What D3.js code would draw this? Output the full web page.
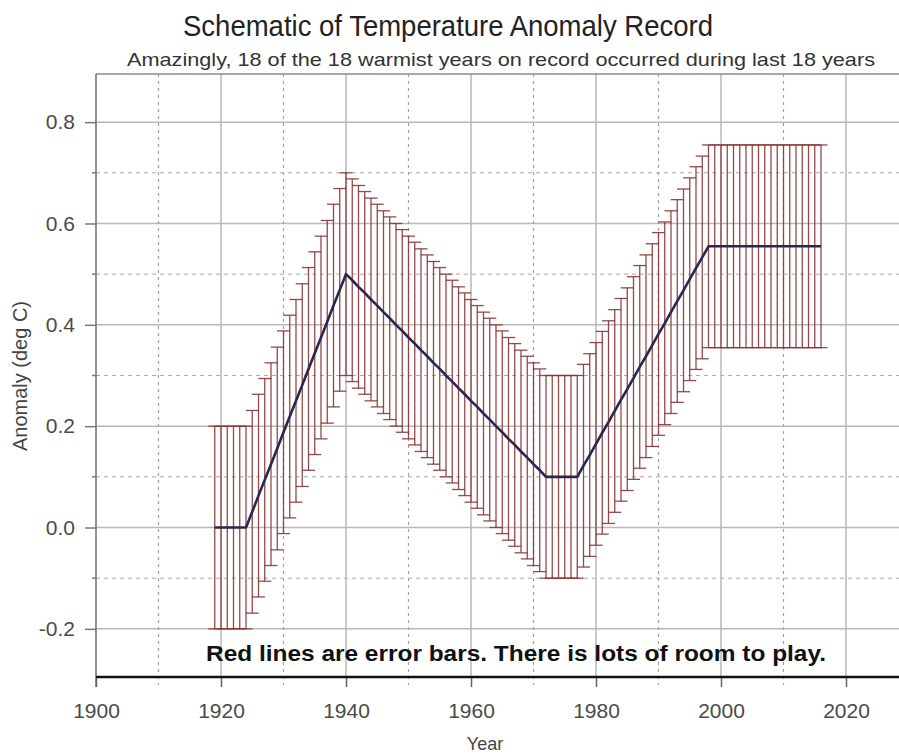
<!DOCTYPE html>
<html>
<head>
<meta charset="utf-8">
<script src="https://cdn.jsdelivr.net/npm/d3@7"></script>
<style>
  html, body { margin: 0; padding: 0; background: #fff; }
  svg { display: block; }
  text { font-family: "Liberation Sans", Arial, sans-serif; }
</style>
</head>
<body>
<svg id="chart" width="899" height="755"></svg>
<script>
// ---------------- data ----------------
const years = [
  1919,1920,1921,1922,1923,1924,1925,1926,1927,1928,1929,1930,1931,1932,1933,1934,1935,1936,1937,1938,
  1939,1940,1941,1942,1943,1944,1945,1946,1947,1948,1949,1950,1951,1952,1953,1954,1955,1956,1957,1958,
  1959,1960,1961,1962,1963,1964,1965,1966,1967,1968,1969,1970,1971,1972,1973,1974,1975,1976,1977,1978,
  1979,1980,1981,1982,1983,1984,1985,1986,1987,1988,1989,1990,1991,1992,1993,1994,1995,1996,1997,1998,
  1999,2000,2001,2002,2003,2004,2005,2006,2007,2008,2009,2010,2011,2012,2013,2014,2015,2016
];
const anomaly = [
  0.000,0.000,0.000,0.000,0.000,0.000,0.031,0.063,0.094,0.125,0.156,0.188,0.219,0.250,0.281,0.313,0.344,0.375,0.406,0.438,
  0.469,0.500,0.488,0.475,0.463,0.450,0.438,0.425,0.413,0.400,0.388,0.375,0.363,0.350,0.338,0.325,0.313,0.300,0.288,0.275,
  0.263,0.250,0.238,0.225,0.213,0.200,0.188,0.175,0.163,0.150,0.138,0.125,0.113,0.100,0.100,0.100,0.100,0.100,0.100,0.122,
  0.143,0.165,0.187,0.208,0.230,0.252,0.273,0.295,0.317,0.338,0.360,0.382,0.403,0.425,0.447,0.468,0.490,0.512,0.533,0.555,
  0.555,0.555,0.555,0.555,0.555,0.555,0.555,0.555,0.555,0.555,0.555,0.555,0.555,0.555,0.555,0.555,0.555,0.555
];
const errorHalf = 0.2;

const xMajorTicks = [1900, 1920, 1940, 1960, 1980, 2000, 2020];
const xMinorTicks = [1910, 1930, 1950, 1970, 1990, 2010];
const yMajorTicks = [-0.2, 0.0, 0.2, 0.4, 0.6, 0.8];
const yTickLabels = ["-0.2", "0.0", "0.2", "0.4", "0.6", "0.8"];
const yMinorTicks = [-0.1, 0.1, 0.3, 0.5, 0.7];

const titleText = "Schematic of Temperature Anomaly Record";
const subtitleText = "Amazingly, 18 of the 18 warmist years on record occurred during last 18 years";
const noteText = "Red lines are error bars. There is lots of room to play.";
const xLabel = "Year";
const yLabel = "Anomaly (deg C)";

// ---------------- layout ----------------
const pLeft = 96, pRight = 899, pTop = 74, pBottom = 677;
const x = d3.scaleLinear().domain([1900, 2028.48]).range([pLeft, pRight]);
const y = d3.scaleLinear().domain([-0.295, 0.895]).range([pBottom, pTop]);

const svg = d3.select("#chart");
svg.append("rect").attr("width", 899).attr("height", 755).attr("fill", "#fff");

const grid = svg.append("g");
grid.selectAll(".hmaj").data(yMajorTicks).join("line")
  .attr("x1", pLeft).attr("x2", pRight)
  .attr("y1", d => y(d)).attr("y2", d => y(d))
  .attr("stroke", "#b9b9b9").attr("stroke-width", 1.5);
grid.selectAll(".hmin").data(yMinorTicks).join("line")
  .attr("x1", pLeft).attr("x2", pRight)
  .attr("y1", d => y(d)).attr("y2", d => y(d))
  .attr("stroke", "#a8a8a8").attr("stroke-width", 1).attr("stroke-dasharray", "4,4");
grid.selectAll(".vmaj").data(xMajorTicks.slice(1)).join("line")
  .attr("x1", d => x(d)).attr("x2", d => x(d))
  .attr("y1", pTop).attr("y2", pBottom)
  .attr("stroke", "#b9b9b9").attr("stroke-width", 1.5);
grid.selectAll(".vmin").data(xMinorTicks).join("line")
  .attr("x1", d => x(d)).attr("x2", d => x(d))
  .attr("y1", pTop).attr("y2", pBottom + 8)
  .attr("stroke", "#a0a0a0").attr("stroke-width", 1.2).attr("stroke-dasharray", "3,4");
grid.append("line").attr("x1", pLeft).attr("x2", pRight).attr("y1", pTop).attr("y2", pTop)
  .attr("stroke", "#8a8a8a").attr("stroke-width", 1.5);

// ---------------- error bars ----------------
const data = years.map((yr, i) => ({ yr, v: anomaly[i] }));
const eb = svg.append("g").attr("stroke", "#8a3535").attr("stroke-width", 1.3).attr("stroke-opacity", 0.9);
eb.selectAll(".bar").data(data).join("line")
  .attr("x1", d => x(d.yr)).attr("x2", d => x(d.yr))
  .attr("y1", d => y(d.v + errorHalf)).attr("y2", d => y(d.v - errorHalf));
eb.selectAll(".capT").data(data).join("line")
  .attr("x1", d => x(d.yr) - 6.5).attr("x2", d => x(d.yr) + 6.5)
  .attr("y1", d => y(d.v + errorHalf)).attr("y2", d => y(d.v + errorHalf));
eb.selectAll(".capB").data(data).join("line")
  .attr("x1", d => x(d.yr) - 6.5).attr("x2", d => x(d.yr) + 6.5)
  .attr("y1", d => y(d.v - errorHalf)).attr("y2", d => y(d.v - errorHalf));

// ---------------- line ----------------
svg.append("path").datum(data)
  .attr("d", d3.line().x(d => x(d.yr)).y(d => y(d.v)))
  .attr("fill", "none").attr("stroke", "#26284f").attr("stroke-width", 2.6)
  .attr("stroke-linejoin", "round");

// ---------------- axes ----------------
const yAxis = svg.append("g").attr("transform", `translate(${pLeft},0)`)
  .call(d3.axisLeft(y).tickValues(yMajorTicks).tickFormat((d, i) => yTickLabels[i])
    .tickSize(11).tickPadding(10));
yAxis.select(".domain").remove();
yAxis.selectAll(".tick line").attr("stroke", "#777").attr("stroke-width", 1.5);
yAxis.selectAll(".tick text").attr("fill", "#4a4a4a").style("font-size", "21px")
  .style("font-family", "'Liberation Sans', Arial, sans-serif");
svg.append("line").attr("x1", pLeft).attr("x2", pLeft).attr("y1", pTop).attr("y2", pBottom + 10)
  .attr("stroke", "#6e6e6e").attr("stroke-width", 1.5);
svg.append("g").selectAll("line").data(yMinorTicks).join("line")
  .attr("x1", pLeft - 4).attr("x2", pLeft).attr("y1", d => y(d)).attr("y2", d => y(d))
  .attr("stroke", "#777").attr("stroke-width", 1.5);

const xAxis = svg.append("g").attr("transform", `translate(0,${pBottom})`)
  .call(d3.axisBottom(x).tickValues(xMajorTicks).tickFormat(d3.format("d"))
    .tickSize(10).tickPadding(16));
xAxis.select(".domain").remove();
xAxis.selectAll(".tick line").attr("stroke", "#666").attr("stroke-width", 1.5);
xAxis.selectAll(".tick text").attr("fill", "#4a4a4a").style("font-size", "21px")
  .style("font-family", "'Liberation Sans', Arial, sans-serif");
svg.append("line").attr("x1", pLeft).attr("x2", pRight).attr("y1", pBottom).attr("y2", pBottom)
  .attr("stroke", "#111").attr("stroke-width", 2.5);

// ---------------- text ----------------
svg.append("text").attr("x", 183).attr("y", 36).attr("text-anchor", "start")
  .attr("textLength", 530).attr("lengthAdjust", "spacingAndGlyphs")
  .attr("fill", "#222").style("font-size", "29px").text(titleText);
svg.append("text").attr("x", 127).attr("y", 66).attr("text-anchor", "start")
  .attr("textLength", 748).attr("lengthAdjust", "spacingAndGlyphs")
  .attr("fill", "#333").style("font-size", "19px").text(subtitleText);
svg.append("text").attr("x", 206).attr("y", 661).attr("text-anchor", "start")
  .attr("textLength", 620).attr("lengthAdjust", "spacingAndGlyphs")
  .attr("fill", "#111").style("font-size", "22px").style("font-weight", "bold").text(noteText);
svg.append("text").attr("x", 485).attr("y", 750).attr("text-anchor", "middle")
  .attr("fill", "#444").style("font-size", "18px").text(xLabel);
svg.append("text").attr("transform", "translate(27,376) rotate(-90)").attr("text-anchor", "middle")
  .attr("fill", "#444").style("font-size", "20px").text(yLabel);
</script>
</body>
</html>
